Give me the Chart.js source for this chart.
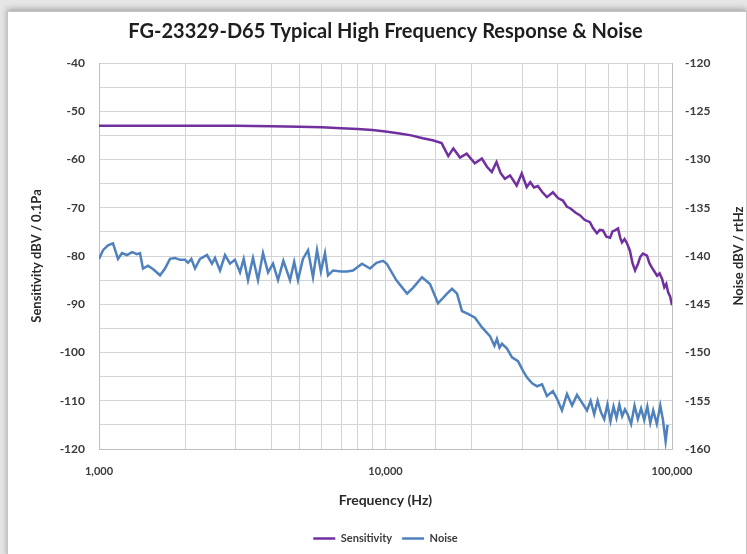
<!DOCTYPE html>
<html>
<head>
<meta charset="utf-8">
<script src="https://cdn.jsdelivr.net/npm/chart.js@4.4.1/dist/chart.umd.min.js"></script>
<style>
  html, body { margin: 0; padding: 0; background: #ffffff; }
  #wrap { position: relative; width: 747px; height: 554px; overflow: hidden; background: #e6e6e6; }
  #frame { position: absolute; left: 7px; top: 11px; width: 738px; height: 545px; background: #ffffff;
           border: 1px solid #c4c4c4; box-shadow: 0 -2px 6px rgba(0,0,0,0.30); }
  #c { position: absolute; left: 0; top: 0; }
</style>
</head>
<body>
<div id="wrap">
  <div id="frame"></div>
  <canvas id="c" width="747" height="554"></canvas>
</div>
<script>
// ---- Data ----
const chartTitle = "FG-23329-D65 Typical High Frequency Response & Noise";
const xAxisTitle = "Frequency (Hz)";
const leftAxisTitle = "Sensitivity dBV / 0.1Pa";
const rightAxisTitle = "Noise dBV / rtHz";
const seriesNames = ["Sensitivity", "Noise"];
const xTickLabels = [1000, 10000, 100000];

// Sensitivity (left axis, dBV / 0.1Pa)
const sensFreq = [1000,1500,2000,3000,4000,5000,6000,7000,8000,9000,10000,11200,12300,13500,14600,15700,
  16560,17250,18200,19200,20500,21700,22600,23500,24400,25200,26100,27200,28700,29900,31100,32000,33000,34000,
  35300,36600,38400,40000,41600,43000,44100,46000,47800,49500,51700,53000,54700,56000,57400,59000,60800,62000,
  63200,64800,66000,66900,68300,69700,71300,72800,74300,76100,77500,79200,81800,83400,85100,88700,90500,92300,
  94000,95500,97000,98500,100000];
const sensVals = [-53.0,-53.0,-53.0,-53.0,-53.1,-53.2,-53.3,-53.5,-53.7,-53.9,-54.2,-54.6,-55.0,-55.6,-56.0,-56.6,
  -59.3,-57.7,-59.6,-58.8,-60.8,-59.8,-61.5,-62.6,-60.5,-62.8,-64.0,-63.3,-65.4,-62.9,-65.7,-64.7,-65.8,-65.5,
  -66.8,-67.8,-66.8,-68.0,-68.5,-69.8,-70.1,-71.0,-71.6,-72.5,-73.0,-74.2,-75.3,-74.6,-74.7,-76.0,-76.2,-74.9,
  -74.7,-74.3,-76.3,-77.2,-76.5,-77.4,-78.9,-81.5,-83.0,-81.6,-80.2,-79.5,-79.9,-81.5,-82.4,-84.1,-83.6,-84.7,
  -86.5,-85.8,-87.6,-88.4,-90.2];

// Noise (right axis, dBV / rtHz)
const noiseFreq = [1000,1033,1075,1119,1165,1203,1252,1304,1357,1390,1424,1483,1550,1633,1700,1769,1842,1918,1996,
  2045,2100,2163,2252,2382,2479,2540,2645,2753,2866,2980,3106,3200,3312,3447,3589,3736,3890,4050,4215,4400,4642,
  4800,4949,5150,5364,5584,5767,5950,6149,6300,6558,7000,7338,7700,8279,8832,9300,9800,10100,10900,11890,12470,
  13410,14300,15250,16400,17070,17770,18490,19410,20530,21720,23160,24000,24490,25000,25500,26550,27640,29010,
  30200,31200,32500,33800,35200,36600,38400,39700,41300,43000,44800,46600,48500,50500,52000,53500,55000,56500,
  58000,59500,61000,62500,64000,65500,67000,68500,70000,72000,74000,76000,78000,80000,82000,84000,86000,88500,
  91000,93000,95000,96500,97600,98500,99200,100000];
const noiseVals = [-140.3,-139.4,-138.9,-138.7,-140.3,-139.7,-139.9,-139.6,-139.8,-139.7,-141.3,-141.0,-141.4,-142.0,
  -141.3,-140.3,-140.2,-140.4,-140.4,-140.7,-140.3,-141.3,-140.3,-139.9,-140.8,-140.2,-141.5,-139.9,-140.8,-140.4,
  -141.7,-140.3,-142.5,-140.2,-142.5,-139.7,-141.7,-140.8,-142.5,-140.5,-142.5,-140.6,-142.5,-140.3,-139.4,-142.2,
  -139.4,-141.6,-139.7,-142.0,-141.5,-141.6,-141.6,-141.5,-140.8,-141.3,-140.7,-140.5,-140.8,-142.5,-143.9,-143.3,
  -142.2,-142.9,-144.9,-143.9,-143.4,-143.9,-145.7,-146.0,-146.4,-147.4,-148.3,-149.3,-148.6,-149.5,-149.1,-149.6,
  -150.5,-150.9,-151.9,-152.6,-153.2,-153.5,-153.3,-154.5,-154.0,-154.8,-156.0,-154.3,-155.5,-154.4,-155.2,-156.0,
  -155.0,-156.4,-155.0,-156.2,-156.9,-155.4,-157.1,-155.6,-156.8,-155.4,-156.6,-155.9,-156.4,-157.4,-155.5,-156.9,
  -155.8,-157.0,-155.6,-157.3,-156.0,-157.4,-155.5,-157.0,-159.2,-157.5];

// ---- Build chart ----
const purple = "#7030a0";
const blue = "#4f81bd";
const gridCol = "#d4d4d4";
const textCol = "#3a3a3a";
const FF = "Lato, 'Open Sans', sans-serif";

const sensPts = sensFreq.map((f, i) => ({x: f, y: sensVals[i]}));
const noisePts = noiseFreq.map((f, i) => ({x: f, y: noiseVals[i]}));

// Right axis title drawn reading bottom-to-top (as in the reference)
const rightTitlePlugin = {
  id: "rightTitle",
  afterDraw(chart) {
    const s = chart.scales.y2;
    const ctx = chart.ctx;
    ctx.save();
    ctx.translate(739, (s.top + s.bottom) / 2);
    ctx.rotate(-Math.PI / 2);
    ctx.fillStyle = "#2a2a2a";
    ctx.font = "bold 13px " + FF;
    ctx.textAlign = "center";
    ctx.textBaseline = "middle";
    ctx.fillText(rightAxisTitle, 0, 0);
    ctx.restore();
  }
};

new Chart(document.getElementById("c"), {
  type: "line",
  data: {
    datasets: [
      { label: seriesNames[0], data: sensPts, borderColor: purple, backgroundColor: purple,
        borderWidth: 2.5, pointRadius: 0, tension: 0, yAxisID: "y" },
      { label: seriesNames[1], data: noisePts, borderColor: blue, backgroundColor: blue,
        borderWidth: 2.5, pointRadius: 0, tension: 0, yAxisID: "y2" }
    ]
  },
  plugins: [rightTitlePlugin],
  options: {
    responsive: false,
    animation: false,
    layout: { padding: { left: 0, right: 0, top: 0, bottom: 0 } },
    plugins: {
      title: {
        display: true, text: chartTitle, fullSize: false,
        color: "#1e1e1e", font: { family: FF, size: 20, weight: "bold" },
        padding: { top: 20, bottom: 19 }
      },
      legend: {
        position: "bottom", fullSize: false,
        labels: {
          usePointStyle: true, pointStyle: "line", pointStyleWidth: 22,
          color: textCol, font: { family: FF, size: 11, weight: "bold" },
          padding: 10
        }
      },
      tooltip: { enabled: false }
    },
    scales: {
      x: {
        type: "logarithmic", position: "bottom", min: 1000, max: 100000,
        afterFit: (s) => { s.height = 74; },
        grid: { color: gridCol, drawTicks: false },
        border: { color: "#bfbfbf" },
        ticks: {
          autoSkip: false, maxRotation: 0, padding: 16,
          color: textCol, font: { family: FF, size: 11, weight: "bold" },
          callback: (v) => xTickLabels.includes(v) ? v.toLocaleString("en-US") : ""
        },
        title: { display: true, text: xAxisTitle, color: "#2a2a2a",
                 font: { family: FF, size: 14, weight: "bold" }, padding: { top: 0, bottom: 14 } }
      },
      y: {
        position: "left", min: -120, max: -40,
        afterFit: (s) => { s.width = 99; },
        grid: { color: gridCol, drawTicks: false },
        border: { color: "#bfbfbf" },
        ticks: {
          stepSize: 5, padding: 14, color: textCol,
          font: { family: FF, size: 12, weight: "bold" },
          callback: (v) => (v % 10 === 0 ? String(v) : "")
        },
        title: { display: true, text: leftAxisTitle, color: "#2a2a2a",
                 font: { family: FF, size: 13, weight: "bold" }, padding: { top: 29, bottom: 0 } }
      },
      y2: {
        position: "right", min: -160, max: -120,
        afterFit: (s) => { s.width = 75; },
        grid: { drawOnChartArea: false, drawTicks: false },
        border: { color: "#bfbfbf" },
        ticks: {
          stepSize: 5, padding: 13, color: textCol,
          font: { family: FF, size: 12, weight: "bold" }
        },
        title: { display: false }
      }
    }
  }
});
</script>
</body>
</html>
